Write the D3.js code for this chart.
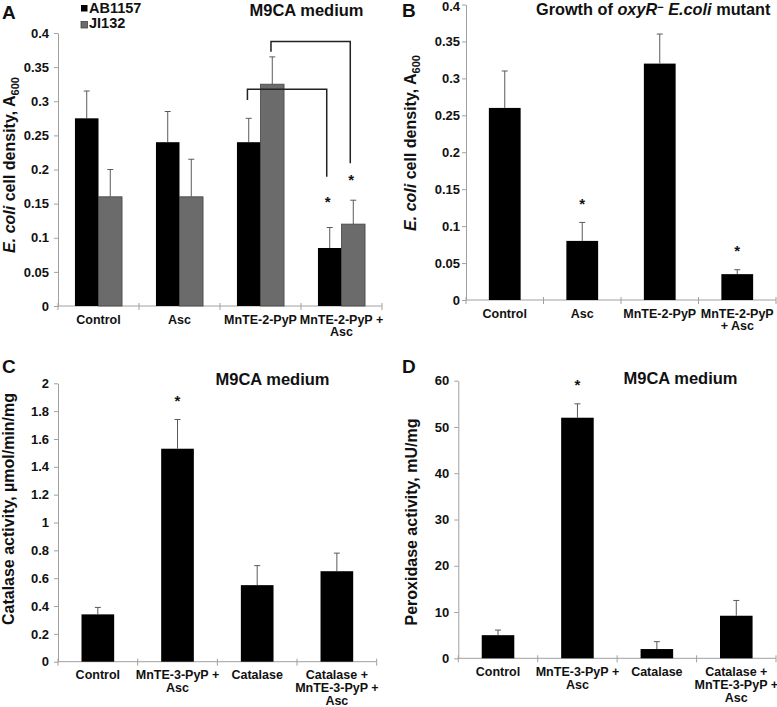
<!DOCTYPE html>
<html><head><meta charset="utf-8">
<script src="https://cdn.jsdelivr.net/npm/d3@7"></script>
<style>
body{margin:0;background:#fff;}
svg text{font-family:"Liberation Sans",Arial,Helvetica,sans-serif;font-weight:bold;fill:#111;}
</style></head><body>
<svg id="chart" width="777" height="707"></svg>
<script>
// ---------- data ----------
const catsA = ["Control","Asc","MnTE-2-PyP","MnTE-2-PyP + Asc"];
const catLabelsA = [["Control"],["Asc"],["MnTE-2-PyP"],["MnTE-2-PyP +","Asc"]];
const seriesA = ["AB1157","JI132"];
const ab1157 = [0.275,0.24,0.24,0.085];
const ab1157Err = [0.04,0.045,0.035,0.03];
const ji132 = [0.16,0.16,0.325,0.12];
const ji132Err = [0.04,0.055,0.04,0.035];
const ticksA = [0,0.05,0.1,0.15,0.2,0.25,0.3,0.35,0.4];
const tickLabelsA = ["0","0.05","0.1","0.15","0.2","0.25","0.3","0.35","0.4"];
const bracketSeriesA = ["AB1157","JI132"];
const bracketTopA = [0.3175,0.3875];
const bracketLeftEndA = [0.302,0.3727];
const bracketRightEndA = [0.1895,0.209];

const catsB = ["Control","Asc","MnTE-2-PyP","MnTE-2-PyP + Asc"];
const catLabelsB = [["Control"],["Asc"],["MnTE-2-PyP"],["MnTE-2-PyP","+ Asc"]];
const valuesB = [0.26,0.08,0.32,0.035];
const errB = [0.05,0.025,0.04,0.006];
const sigB = [false,true,false,true];
const ticksB = [0,0.05,0.1,0.15,0.2,0.25,0.3,0.35,0.4];
const tickLabelsB = ["0","0.05","0.1","0.15","0.2","0.25","0.3","0.35","0.4"];

const catsC = ["Control","MnTE-3-PyP + Asc","Catalase","Catalase + MnTE-3-PyP + Asc"];
const catLabelsC = [["Control"],["MnTE-3-PyP +","Asc"],["Catalase"],["Catalase +","MnTE-3-PyP +","Asc"]];
const valuesC = [0.34,1.53,0.55,0.65];
const errC = [0.05,0.21,0.14,0.13];
const sigC = [false,true,false,false];
const ticksC = [0,0.2,0.4,0.6,0.8,1,1.2,1.4,1.6,1.8,2];
const tickLabelsC = ["0","0.2","0.4","0.6","0.8","1","1.2","1.4","1.6","1.8","2"];

const catsD = ["Control","MnTE-3-PyP + Asc","Catalase","Catalase + MnTE-3-PyP + Asc"];
const catLabelsD = [["Control"],["MnTE-3-PyP +","Asc"],["Catalase"],["Catalase +","MnTE-3-PyP +","Asc"]];
const valuesD = [5,52,2,9.2];
const errD = [1.1,3,1.6,3.3];
const sigD = [false,true,false,false];
const ticksD = [0,10,20,30,40,50,60];
const tickLabelsD = ["0","10","20","30","40","50","60"];

// ---------- drawing ----------
const svg = d3.select("#chart");
const AXIS = "#a0a0a0", ERR = "#5a5a5a", GRAY = "#6b6b6b";

function panel(o){
  const g = svg.append("g");
  const y = d3.scaleLinear().domain([0, o.max]).range([o.y0, o.yTop]);
  const x = d3.scaleBand().domain(o.cats).range([o.xl, o.xr]);
  // y axis
  const ya = g.append("g").attr("transform",`translate(${o.xl},0)`)
    .call(d3.axisLeft(y).tickValues(o.ticks).tickFormat((d,i)=>o.tickLabels[i])
      .tickSize(4).tickSizeOuter(0).tickPadding(o.pad));
  ya.select(".domain").attr("stroke",AXIS);
  ya.selectAll(".tick line").attr("stroke",AXIS);
  ya.selectAll(".tick text").attr("font-size",13).attr("fill","#111")
    .attr("font-family",null);
  if(o.topShift) ya.selectAll(".tick text").filter(d=>d===o.max).attr("transform",`translate(0,${o.topShift})`);
  // x axis
  g.append("line").attr("x1",o.xl).attr("x2",o.xr).attr("y1",o.y0).attr("y2",o.y0).attr("stroke",AXIS);
  const bounds = o.cats.map(c=>x(c)).concat([o.xr]);
  g.selectAll(".xt").data(bounds).join("line")
    .attr("x1",d=>d).attr("x2",d=>d).attr("y1",o.y0-3).attr("y2",o.y0+4).attr("stroke",AXIS);
  // category labels
  const cl = g.selectAll(".cl").data(o.cats).join("text")
    .attr("text-anchor","middle").attr("font-size",12.5)
    .attr("transform",d=>`translate(${x(d)+x.bandwidth()/2},${o.y0+17.5})`);
  cl.each(function(d,i){
    const t = d3.select(this);
    o.catLabels[i].forEach((line,j)=>t.append("tspan").attr("x",0).attr("y",j*12.9).text(line));
  });
  return {g,x,y};
}

function errBar(g,cx,yv,ye){
  g.append("line").attr("x1",cx).attr("x2",cx).attr("y1",yv).attr("y2",ye).attr("stroke",ERR).attr("stroke-width",1);
  g.append("line").attr("x1",cx-3).attr("x2",cx+3).attr("y1",ye).attr("y2",ye).attr("stroke",ERR).attr("stroke-width",1);
}
function star(g,cx,cy){
  g.append("text").attr("x",cx).attr("y",cy+8).attr("text-anchor","middle").attr("font-size",15).text("*");
}

function singlePanel(o){
  const {g,x,y} = panel(o);
  const xb = d3.scaleBand().domain(o.cats).range([o.xl,o.xr]).paddingInner(0.59).paddingOuter(0.295);
  g.selectAll(".bar").data(o.values).join("rect")
    .attr("x",(d,i)=>xb(o.cats[i])).attr("width",xb.bandwidth())
    .attr("y",d=>y(d)).attr("height",d=>y(0)-y(d)).attr("fill","#000");
  o.values.forEach((v,i)=>{
    const cx = xb(o.cats[i])+xb.bandwidth()/2;
    errBar(g,cx,y(v),y(v+o.err[i]));
    if(o.sig[i]) star(g,cx,y(v+o.err[i])-21.5);
  });
  return {g,x,y};
}

// Panel A
(function(){
  const o = {cats:catsA,catLabels:catLabelsA,ticks:ticksA,tickLabels:tickLabelsA,max:0.4,
    xl:58,xr:382,y0:306,yTop:33,pad:5};
  const {g,x,y} = panel(o);
  const sub = d3.scaleBand().domain(seriesA).range([0,x.bandwidth()]).paddingOuter(0.72);
  const vals = {AB1157:ab1157, JI132:ji132};
  const errs = {AB1157:ab1157Err, JI132:ji132Err};
  const fills = {AB1157:"#000", JI132:GRAY};
  seriesA.forEach(s=>{
    g.selectAll(".b"+s).data(vals[s]).join("rect")
      .attr("x",(d,i)=>x(catsA[i])+sub(s)).attr("width",sub.bandwidth())
      .attr("y",d=>y(d)).attr("height",d=>y(0)-y(d))
      .attr("fill",fills[s]).attr("stroke",s==="JI132"?"#444":"none").attr("stroke-width",0.8);
    vals[s].forEach((v,i)=>errBar(g,x(catsA[i])+sub(s)+sub.bandwidth()/2,y(v),y(v+errs[s][i])));
  });
  // brackets
  bracketSeriesA.forEach((s,k)=>{
    const lx = x(catsA[2])+sub(s)+sub.bandwidth()/2 - 1.3;
    const rx = x(catsA[3])+sub(s)+sub.bandwidth()/2 - 3;
    g.append("path").attr("fill","none").attr("stroke","#222").attr("stroke-width",1.5)
      .attr("d",`M${lx},${y(bracketLeftEndA[k])}V${y(bracketTopA[k])}H${rx}V${y(bracketRightEndA[k])}`);
    const ey = y(vals[s][3]+errs[s][3]);
    star(g, rx+1, s==="AB1157" ? ey-29 : ey-23.5);
  });
  // legend
  seriesA.forEach((s,i)=>{
    g.append("rect").attr("x",81).attr("y",5+i*16.5).attr("width",6.5).attr("height",6.5)
      .attr("fill",fills[s]).attr("stroke",s==="JI132"?"#444":"none").attr("stroke-width",0.8);
    g.append("text").attr("x",89).attr("y",13+i*15).attr("font-size",14.5).text(s);
  });
  g.append("text").attr("x",306.5).attr("y",15.5).attr("text-anchor","middle").attr("font-size",16.5).text("M9CA medium");
  g.append("text").attr("x",2).attr("y",18.5).attr("font-size",19).text("A");
  const yl = g.append("text").attr("transform","translate(15,165) rotate(-90)").attr("text-anchor","middle").attr("font-size",16);
  yl.append("tspan").attr("font-style","italic").text("E. coli");
  yl.append("tspan").text(" cell density, A");
  yl.append("tspan").attr("font-size",11).attr("dy",4).text("600");
})();

// Panel B
(function(){
  const {g} = singlePanel({cats:catsB,catLabels:catLabelsB,ticks:ticksB,tickLabels:tickLabelsB,max:0.4,
    xl:466,xr:776,y0:300,yTop:4.5,pad:2,topShift:2,values:valuesB,err:errB,sig:sigB});
  g.append("text").attr("x",402).attr("y",17).attr("font-size",19).text("B");
  const t = g.append("text").attr("x",536).attr("y",14.5).attr("font-size",16.3);
  t.append("tspan").text("Growth of ");
  t.append("tspan").attr("font-style","italic").text("oxyR");
  t.append("tspan").attr("font-size",11).attr("dy",-4).text("\u2212");
  t.append("tspan").attr("dy",4).attr("font-style","italic").text(" E.coli");
  t.append("tspan").text(" mutant");
  const yl = g.append("text").attr("transform","translate(416,143) rotate(-90)").attr("text-anchor","middle").attr("font-size",16);
  yl.append("tspan").attr("font-style","italic").text("E. coli");
  yl.append("tspan").text(" cell density, A");
  yl.append("tspan").attr("font-size",11).attr("dy",4).text("600");
})();

// Panel C
(function(){
  const {g} = singlePanel({cats:catsC,catLabels:catLabelsC,ticks:ticksC,tickLabels:tickLabelsC,max:2,
    xl:58,xr:376.7,y0:661.7,yTop:383.3,pad:5,values:valuesC,err:errC,sig:sigC});
  g.append("text").attr("x",2).attr("y",373).attr("font-size",19).text("C");
  g.append("text").attr("x",272.5).attr("y",384.5).attr("text-anchor","middle").attr("font-size",16.5).text("M9CA medium");
  g.append("text").attr("transform","translate(14,509) rotate(-90)").attr("text-anchor","middle").attr("font-size",16)
    .text("Catalase activity, \u00b5mol/min/mg");
})();

// Panel D
(function(){
  const {g} = singlePanel({cats:catsD,catLabels:catLabelsD,ticks:ticksD,tickLabels:tickLabelsD,max:60,
    xl:458.3,xr:776,y0:658.3,yTop:380.7,pad:5,values:valuesD,err:errD,sig:sigD});
  g.append("text").attr("x",402).attr("y",373).attr("font-size",19).text("D");
  g.append("text").attr("x",680.5).attr("y",383.5).attr("text-anchor","middle").attr("font-size",16.5).text("M9CA medium");
  g.append("text").attr("transform","translate(417,522) rotate(-90)").attr("text-anchor","middle").attr("font-size",16)
    .text("Peroxidase activity, mU/mg");
})();
</script>
</body></html>
